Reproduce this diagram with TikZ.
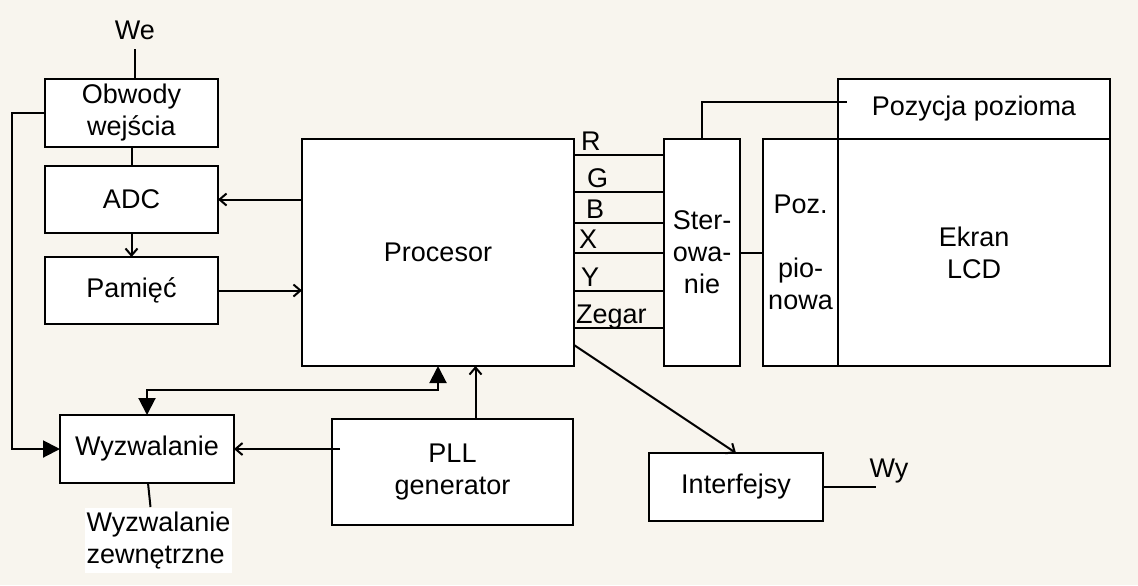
\documentclass[tikz,border=0pt]{standalone}
\usepackage{fontspec}
\setmainfont{Liberation Sans}
\usepackage{tikz}
\usetikzlibrary{arrows.meta, positioning}
\definecolor{paper}{RGB}{248,245,238}
\tikzset{
    boxnode/.style = {draw, rectangle, fill=white, inner sep=0em, outer sep=0pt,
      align=center, font=\fontsize{13.5}{16}\selectfont},
    textnode/.style = {draw=none, fill=none, rectangle, inner sep=0em, align=center,
      font=\fontsize{13.5}{16}\selectfont},
    connect/.style = {-{Straight Barb[length=3.5pt, width=6pt]}},
    bigconnect/.style = {-{Triangle[length=8.5pt, width=8.5pt]}},
    bigboth/.style = {{Triangle[length=8.5pt, width=8.5pt]}-{Triangle[length=8.5pt, width=8.5pt]}}
}
\begin{document}
\begin{tikzpicture}[x=0.5pt, y=-0.5pt, line width=1pt]
    \fill [paper] (0,0) rectangle (1138,585);

    % left column
    \node [name=obwody, boxnode, minimum width=86.5pt, minimum height=34pt] at (131.5,113) {Obwody\\wejścia};
    \node [name=adc, boxnode, minimum width=86.5pt, minimum height=33.5pt] at (131.5,199.5) {ADC};
    \node [name=pamiec, boxnode, minimum width=86.5pt, minimum height=33.5pt] at (131.5,290.5) {Pamięć};
    \node [name=wyzw, boxnode, minimum width=87pt, minimum height=34pt] at (147,449) {Wyzwalanie};
    \node [name=we, textnode] at (135,30) {We};
    \node [name=zewn, textnode, fill=white, align=left, minimum width=73.5pt, minimum height=32.5pt]
        at (158.5,540.5) {Wyzwalanie\\zewnętrzne};

    % middle
    \node [name=procesor, boxnode, minimum width=136pt, minimum height=113.5pt] at (438,252.5) {Procesor};
    \node [name=pll, boxnode, minimum width=120.5pt, minimum height=53pt] at (452.5,472) {PLL\\generator};
    \node [name=interf, boxnode, minimum width=87pt, minimum height=34pt] at (736,487) {Interfejsy};
    \node [name=wy, textnode] at (889,471) {Wy};

    % right part
    \node [name=sterowanie, boxnode, minimum width=38pt, minimum height=113.5pt] at (702,252.5) {Ster-\\owa-\\nie};
    \node [name=pozpion, boxnode, minimum width=37.5pt, minimum height=113.5pt] at (800.5,252.5) {Poz.\\[16pt]pio-\\nowa};
    \node [name=ekran, boxnode, minimum width=136pt, minimum height=113.5pt, right=0pt of pozpion] {Ekran\\LCD};
    \node [name=pozpoz, boxnode, minimum width=136pt, minimum height=30pt, above=0pt of ekran] {Pozycja pozioma};

    \coordinate (wein) at (135,49);
    \coordinate (fb) at (12,113);
    \coordinate (pozend) at (847,102);
    \coordinate (wyend) at (876,487);
    \coordinate (pllout) at ([xshift=11.5pt]pll.north);

    \draw (wein) -- (wein |- obwody.north);
    \draw (obwody) -- (adc);
    \draw [connect] (adc) -- (pamiec);
    \draw [connect] (adc.east -| procesor.west) -- (adc.east);
    \draw [connect] (pamiec.east) -- (pamiec.east -| procesor.west);
    \draw [bigconnect] (obwody.west) -- (fb) |- (wyzw.west);
    \draw [bigboth] (wyzw.north) -- ++(0,-25) -| (procesor.south);
    \draw [connect] (pllout) -- (pllout |- procesor.south);
    \draw [connect] (pll.west |- wyzw.east) ++(8,0) -- (wyzw.east);
    \draw [connect] (procesor.south east) ++(0,-21) -- (interf.north);
    \draw (interf.east) -- (wyend);
    \draw ([xshift=0.5pt]wyzw.south) -- ([xshift=-4pt]zewn.north);

    % RGB lines
    \foreach \yy/\sig/\dx in {155/R/3, 192/G/6, 223/B/5.5, 253/X/2, 291/Y/3, 328/Zegar/0.5} {
        \draw (procesor.east |- 0,\yy) -- (sterowanie.west |- 0,\yy);
        \node [textnode, anchor=base west, xshift=\dx pt, yshift=2.5pt] at (procesor.east |- 0,\yy) {\sig};
    }

    \draw (sterowanie.north) |- (pozend);
    \draw (sterowanie.east) -- (pozpion.west);
\end{tikzpicture}
\end{document}
